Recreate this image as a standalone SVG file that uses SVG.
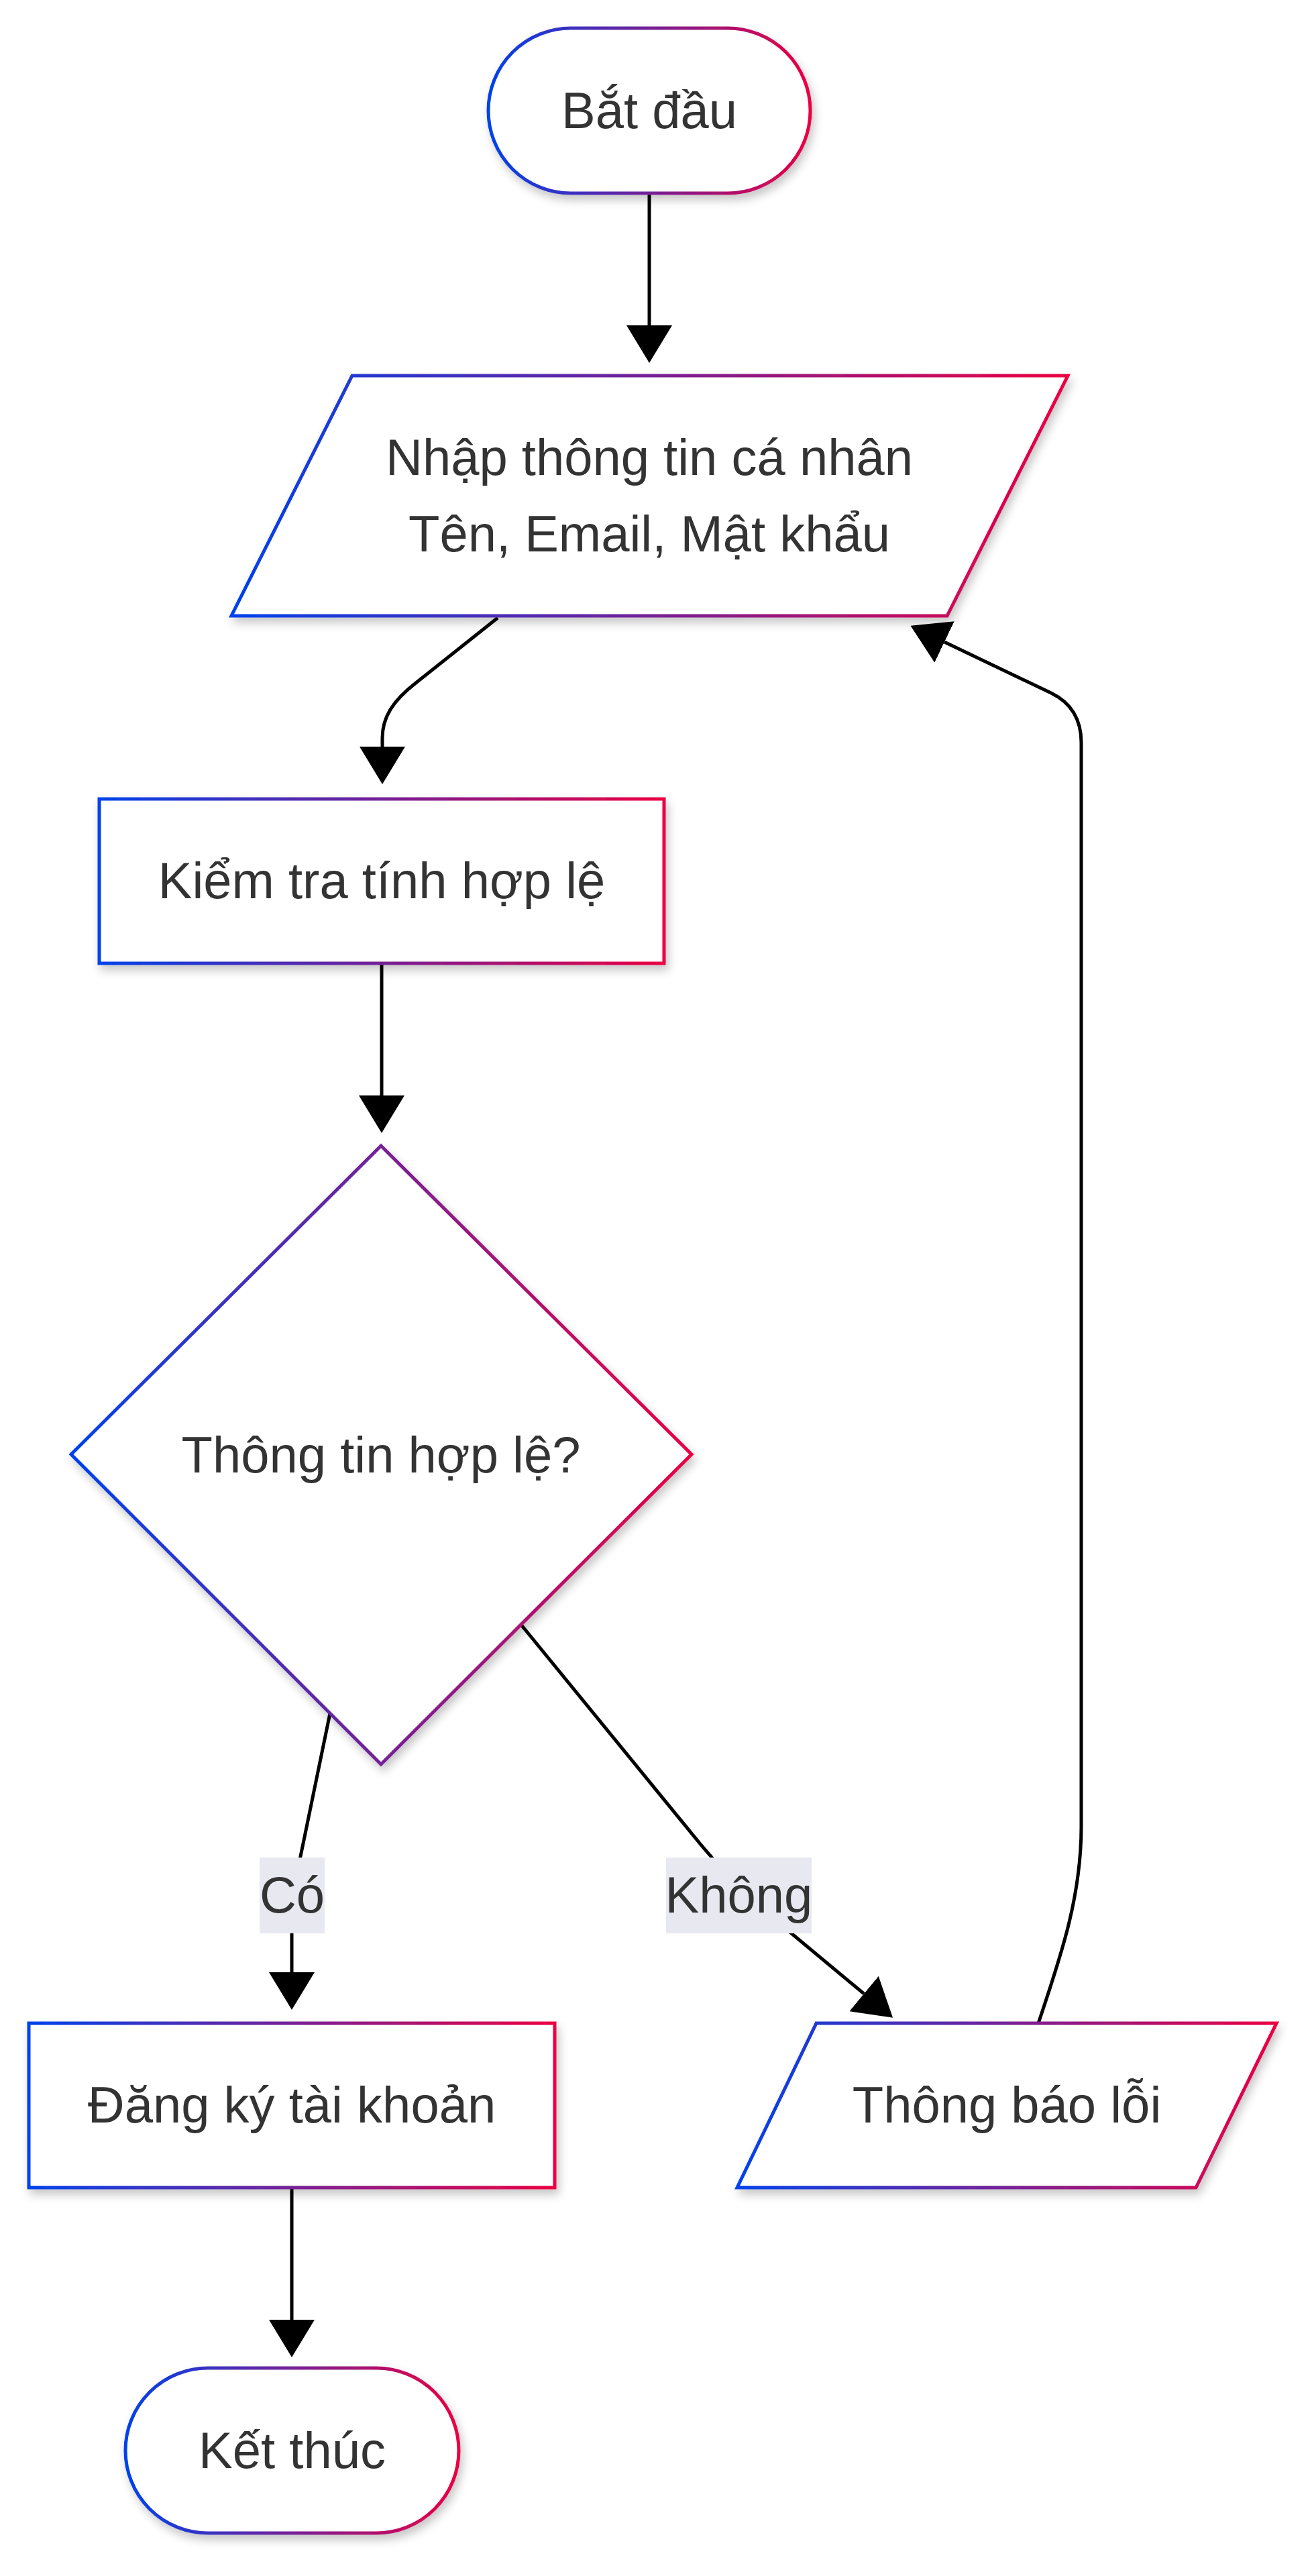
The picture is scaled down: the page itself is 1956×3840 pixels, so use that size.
<svg xmlns="http://www.w3.org/2000/svg" width="1956" height="3840" viewBox="0 0 1956 3840">
<defs>
<linearGradient id="grad" x1="0" y1="0" x2="1" y2="0">
<stop offset="0" stop-color="#0042eb"/>
<stop offset="1" stop-color="#eb0042"/>
</linearGradient>
<filter id="shadow" x="-20%" y="-20%" width="140%" height="150%">
<feDropShadow dx="4" dy="8" stdDeviation="7" flood-color="#000000" flood-opacity="0.22"/>
</filter>
<marker id="arrow" markerUnits="userSpaceOnUse" viewBox="0 0 56 68" markerWidth="56" markerHeight="68" refX="0" refY="34" orient="auto">
<path d="M0,0 L56,34 L0,68 z" fill="#000"/>
</marker>
</defs>
<style>
.node{fill:#ffffff;stroke:url(#grad);stroke-width:5;filter:url(#shadow);}
.lbl{font-family:"Liberation Sans",Arial,sans-serif;font-size:76px;fill:#333333;text-anchor:middle;}
.edge{fill:none;stroke:#000000;stroke-width:5;marker-end:url(#arrow);}
.elbg{fill:#e8e8f0;}
</style>
<rect width="1956" height="3840" fill="#ffffff"/>
<g id="connectors">
<path class="edge" d="M968 288 L968 485"/>
<path class="edge" d="M742 921 L620 1018 C585 1045 570 1070 570 1100 L570 1113"/>
<path class="edge" d="M569 1436 L569 1633"/>
<path class="edge" d="M492 2554 L452 2748 Q436 2820 435 2880 L435 2940"/>
<path class="edge" d="M777 2422 L1045 2750 Q1105 2822 1175 2878 L1288 2972"/>
<path class="edge" d="M1548 3016 C1580 2920 1612 2830 1612 2723 L1612 1107 Q1612 1055 1567 1033 L1408 957"/>
<path class="edge" d="M435 3261 L435 3458"/>
</g>
<g id="edge-labels">
<g id="label-co">
<rect class="elbg" x="387" y="2769" width="97" height="113"/>
<text class="lbl" x="435.5" y="2851">Có</text>
</g>
<g id="label-khong">
<rect class="elbg" x="993" y="2769" width="217" height="113"/>
<text class="lbl" x="1101.5" y="2851">Không</text>
</g>
</g>
<g id="node-start">
<rect class="node" x="728" y="42" width="480" height="246" rx="123" ry="123"/>
<text class="lbl" x="968" y="191">Bắt đầu</text>
</g>
<g id="node-input">
<polygon class="node" points="525,560 1592,560 1412,918 345,918"/>
<text class="lbl" x="968" y="708">Nhập thông tin cá nhân</text>
<text class="lbl" x="968" y="822">Tên, Email, Mật khẩu</text>
</g>
<g id="node-check">
<rect class="node" x="148" y="1191" width="842" height="245"/>
<text class="lbl" x="569" y="1339">Kiểm tra tính hợp lệ</text>
</g>
<g id="node-decision">
<polygon class="node" points="568,1708 1031,2168 568,2630 106,2168"/>
<text class="lbl" x="568" y="2195">Thông tin hợp lệ?</text>
</g>
<g id="node-register">
<rect class="node" x="43" y="3016" width="784" height="245"/>
<text class="lbl" x="435" y="3164">Đăng ký tài khoản</text>
</g>
<g id="node-error">
<polygon class="node" points="1217,3016 1903,3016 1783,3261 1099,3261"/>
<text class="lbl" x="1501" y="3164">Thông báo lỗi</text>
</g>
<g id="node-end">
<rect class="node" x="187" y="3530" width="497" height="246" rx="123" ry="123"/>
<text class="lbl" x="435.5" y="3679">Kết thúc</text>
</g>
</svg>
